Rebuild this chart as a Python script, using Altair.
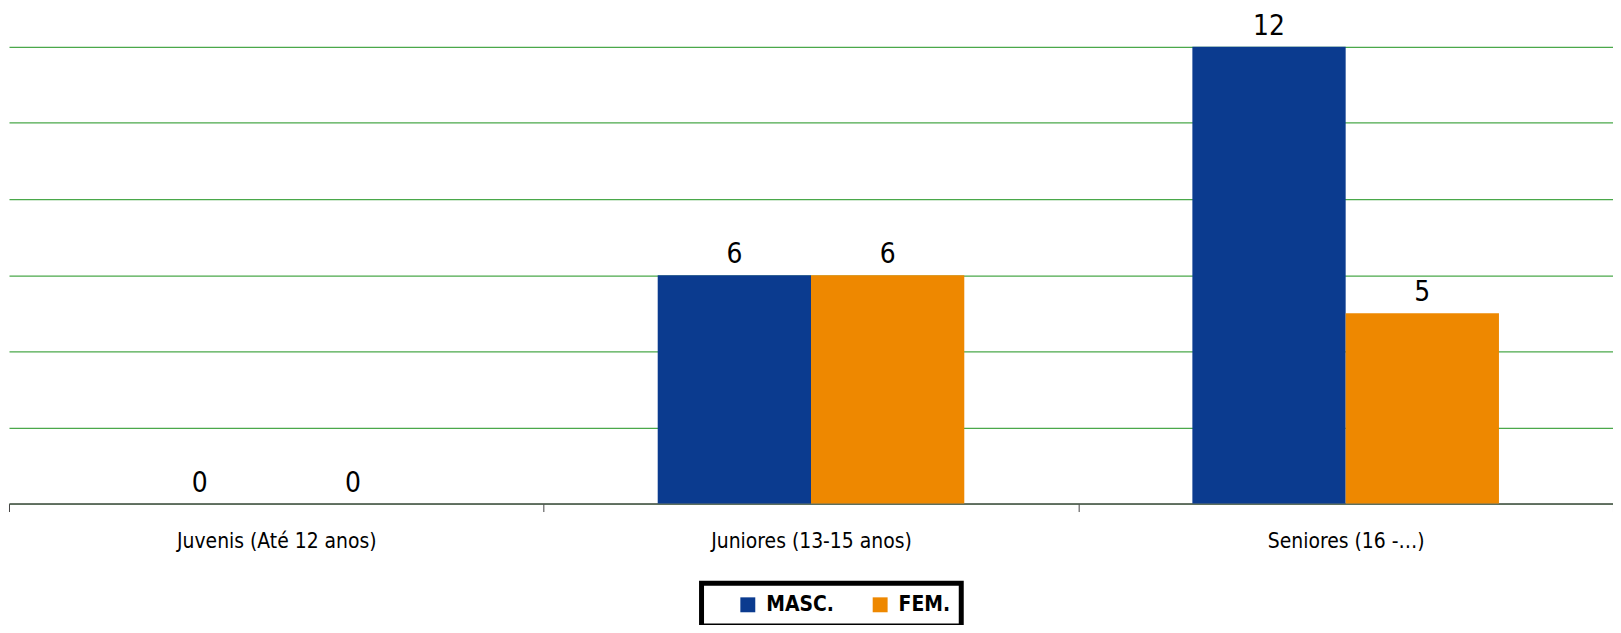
import altair as alt
import pandas as pd

categories = ["Juvenis (Até 12 anos)", "Juniores (13-15 anos)", "Seniores (16 -…)"]
series = ["MASC.", "FEM."]
masc = [0, 6, 12]
fem = [0, 6, 5]

rows = []
for c, m, f in zip(categories, masc, fem):
    rows.append({"cat": c, "serie": "MASC.", "valor": m})
    rows.append({"cat": c, "serie": "FEM.", "valor": f})
df = pd.DataFrame(rows)

FONT = "DejaVu Sans Condensed, DejaVu Sans, sans-serif"

x = alt.X("cat:N", sort=categories, title=None,
          scale=alt.Scale(paddingInner=0, paddingOuter=0),
          axis=alt.Axis(labelAngle=0, labelFontSize=21, labelColor="#000",
                        labelFont=FONT, labelPadding=19, tickBand="extent",
                        tickSize=8, tickColor="#444", domainColor="#555",
                        domainWidth=1.5, labelLimit=500, grid=False))
y = alt.Y("valor:Q", title=None,
          scale=alt.Scale(domain=[0, 12], nice=False, zero=True),
          axis=alt.Axis(values=[0, 2, 4, 6, 8, 10, 12], labels=False, ticks=False,
                        domain=False, grid=True, gridColor="#4aa84a", gridWidth=1.2))
color = alt.Color("serie:N", sort=series, title=None,
                  scale=alt.Scale(domain=series, range=["#0B3B8F", "#EE8800"]),
                  legend=alt.Legend(orient="none", legendX=696, legendY=539,
                                    direction="horizontal",
                                    labelFont=FONT, labelFontSize=21, labelFontWeight="bold",
                                    labelColor="#000", symbolType="square", symbolSize=225,
                                    symbolStrokeWidth=0, columnPadding=10, labelOffset=8,
                                    symbolOffset=25,
                                    strokeColor="#000", fillColor="#fff",
                                    padding=11, labelLimit=300))
xo = alt.XOffset("serie:N", sort=series,
                 scale=alt.Scale(paddingInner=0, paddingOuter=0.744))

bars = alt.Chart(df).mark_bar().encode(x=x, y=y, color=color, xOffset=xo)
text = alt.Chart(df).mark_text(baseline="bottom", dy=-6, fontSize=28, font=FONT,
                               color="#000").encode(
    x=alt.X("cat:N", sort=categories), y="valor:Q",
    xOffset=xo, text="valor:Q")

chart = alt.layer(bars, text).properties(
    width=1612, height=459,
    autosize=alt.AutoSizeParams(type="none"),
    padding={"left": 1, "top": 37.5, "right": 0, "bottom": 120},
).configure_view(stroke=None).configure_legend(strokeWidth=5)

chart.save("out.html", embed_options={"renderer": "svg", "actions": False})
